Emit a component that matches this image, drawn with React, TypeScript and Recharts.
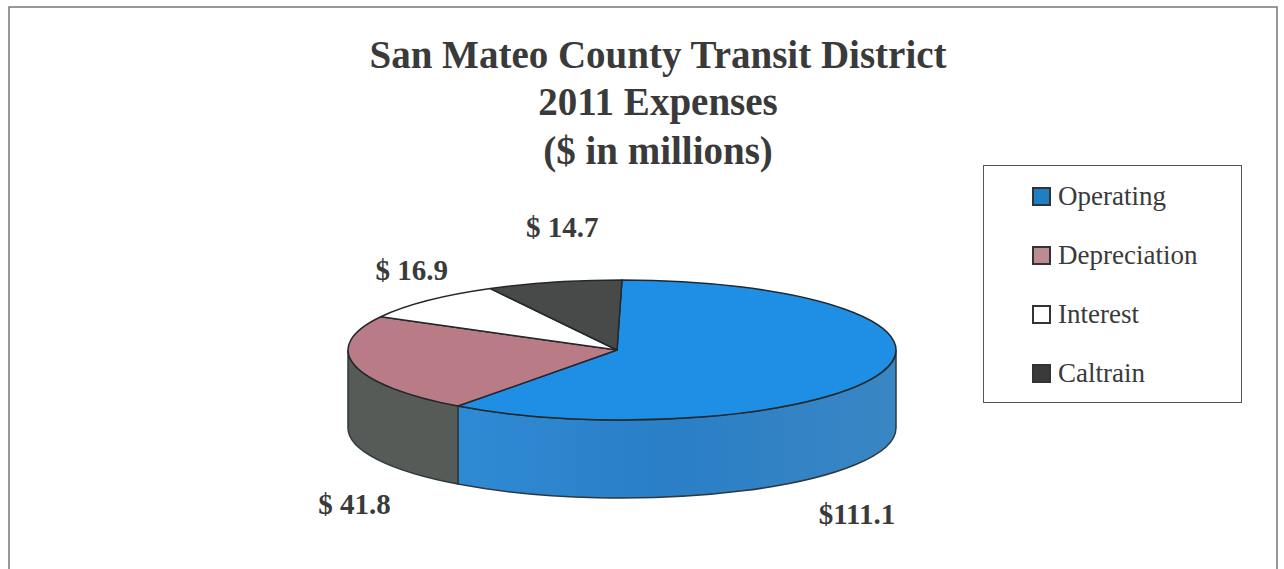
import React from 'react';
import { PieChart, Pie, Legend } from 'recharts';

const categories = ['Operating', 'Depreciation', 'Interest', 'Caltrain'];
const expenses = [111.1, 41.8, 16.9, 14.7];
const valueLabels = ['$111.1', '$ 41.8', '$ 16.9', '$ 14.7'];
const titleLines = ['San Mateo County Transit District', '2011 Expenses', '($ in millions)'];

const topColors = ['#1f8fe6', '#b97c86', '#ffffff', '#474a49'];
const sideColors = ['url(#operatingSide)', '#565b58', '#ffffff', '#474a49'];
const swatchColors = ['#1f7fc4', '#bd8b92', '#ffffff', '#3a3a3a'];

const tableData = categories.map((name, i) => ({ name, value: expenses[i], fill: topColors[i] }));

const SERIF = '"Liberation Serif", serif';
const INK = '#3a3a3a';
const CX = 622;
const CY = 350;
const RX = 274;
const SQUASH = 70 / 274;
const DEPTH = 78;
const APEX_SHIFT = -5;

// where each value label sits relative to the rim at the middle of its slice
const labelShift = [
  { dx: -25, dy: 152 },
  { dx: 0, dy: 149 },
  { dx: -16, dy: -21 },
  { dx: 8, dy: -45 },
];

const rimPoint = (cx: number, cy: number, r: number, clockDeg: number) => {
  const a = (clockDeg * Math.PI) / 180;
  return { x: cx + r * Math.sin(a), y: cy - r * SQUASH * Math.cos(a) };
};

// flattened slice with its side wall, angles come from the Pie layout
const TiltedSector = (props: any) => {
  const { cx, cy, outerRadius: r, startAngle, endAngle, fill, index } = props;
  const t0 = 90 - startAngle;
  const t1 = 90 - endAngle;
  const ry = r * SQUASH;
  const a = rimPoint(cx, cy, r, t0);
  const b = rimPoint(cx, cy, r, t1);
  const large = t1 - t0 > 180 ? 1 : 0;
  const top = `M${cx + APEX_SHIFT},${cy} L${a.x},${a.y} A${r},${ry} 0 ${large} 1 ${b.x},${b.y} Z`;

  const w0 = Math.max(t0, 90);
  const w1 = Math.min(t1, 270);
  let wall = null;
  if (w1 > w0) {
    const p = rimPoint(cx, cy, r, w0);
    const q = rimPoint(cx, cy, r, w1);
    const wl = w1 - w0 > 180 ? 1 : 0;
    const d =
      `M${p.x},${p.y} A${r},${ry} 0 ${wl} 1 ${q.x},${q.y} L${q.x},${q.y + DEPTH} ` +
      `A${r},${ry} 0 ${wl} 0 ${p.x},${p.y + DEPTH} Z`;
    wall = <path d={d} fill={sideColors[index]} stroke="#2b3a40" strokeWidth={1.5} />;
  }
  return (
    <g>
      {wall}
      <path d={top} fill={fill} stroke="#23282b" strokeWidth={1.5} strokeLinejoin="round" />
    </g>
  );
};

const renderValueLabel = (props: any) => {
  const { cx, cy, outerRadius, midAngle, index } = props;
  const rim = rimPoint(cx, cy, outerRadius, 90 - midAngle);
  return (
    <text
      x={rim.x + labelShift[index].dx}
      y={rim.y + labelShift[index].dy}
      textAnchor="middle"
      fontFamily={SERIF}
      fontWeight="bold"
      fontSize={29}
      fill={INK}
    >
      {valueLabels[index]}
    </text>
  );
};

const LegendBox = ({ payload }: any) => (
  <div style={{ position: 'relative', width: 259, height: 238, boxSizing: 'border-box', border: '1.5px solid #555', background: '#fff' }}>
    {(payload || []).map((entry: any, i: number) => (
      <div
        key={entry.value}
        style={{ position: 'absolute', left: 48, top: 12 + i * 59, height: 36, display: 'flex', alignItems: 'center' }}
      >
        <span style={{ width: 15, height: 15, background: swatchColors[i], border: '2px solid #333', marginRight: 7, display: 'inline-block' }} />
        <span style={{ fontFamily: SERIF, fontSize: 27, color: INK, lineHeight: '36px' }}>{entry.value}</span>
      </div>
    ))}
  </div>
);

export default function App() {
  return (
    <div style={{ position: 'absolute', left: 0, top: 0, width: 1284, height: 569, background: '#fff', overflow: 'hidden' }}>
      <PieChart width={1284} height={569} margin={{ top: 0, right: 0, bottom: 0, left: 0 }}>
        <defs>
          <linearGradient id="operatingSide" x1="0" y1="0" x2="1" y2="0">
            <stop offset="0" stopColor="#2f8ad4" />
            <stop offset="0.5" stopColor="#2a7fc6" />
            <stop offset="1" stopColor="#3a86c4" />
          </linearGradient>
        </defs>
        <path d="M9,569 L9,7 L1277,7 L1277,569" fill="none" stroke="#777" strokeWidth={1.5} />
        {titleLines.map((line, i) => (
          <text
            key={line}
            x={658}
            y={[68, 115, 164][i]}
            textAnchor="middle"
            fontFamily={SERIF}
            fontWeight="bold"
            fontSize={39}
            fill={INK}
          >
            {line}
          </text>
        ))}
        <Pie
          data={tableData}
          dataKey="value"
          nameKey="name"
          cx={CX}
          cy={CY}
          outerRadius={RX}
          startAngle={90}
          endAngle={-270}
          shape={TiltedSector}
          label={renderValueLabel}
          labelLine={false}
          isAnimationActive={false}
        />
        <Legend
          content={<LegendBox />}
          itemSorter={null}
          wrapperStyle={{ position: 'absolute', left: 983, top: 165, width: 259, height: 238, bottom: 'auto' }}
        />
      </PieChart>
    </div>
  );
}
